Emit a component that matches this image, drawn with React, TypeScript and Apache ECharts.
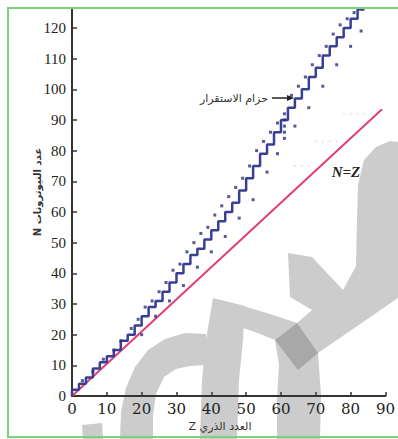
import React, { useEffect, useRef } from "react";
import * as echarts from "echarts";

// ---- data ----
const xTicks = [0, 10, 20, 30, 40, 50, 60, 70, 80, 90];
const yTicks = [0, 10, 20, 30, 40, 50, 60, 70, 80, 90, 100, 110, 120];

// stability band (staircase): proton number Z and neutron number N
const stairZ = [0, 2, 4, 6, 8, 10, 12, 14, 16, 18, 20, 22, 24, 26, 28, 30, 32, 34, 36, 38, 40, 42, 44, 46, 48, 50, 52, 54, 56, 58, 60, 62, 64, 66, 68, 70, 72, 74, 76, 78, 80, 82, 84];
const stairN = [0, 2, 4, 6, 9, 11, 13, 15, 18, 20, 23, 26, 29, 31, 34, 37, 40, 43, 46, 48, 51, 54, 57, 60, 63, 67, 71, 75, 79, 82, 86, 90, 94, 97, 100, 104, 107, 111, 114, 117, 120, 123, 126];

// dotted isotopes around the band
const dotZ = [3, 6, 9, 12, 14, 17, 19, 21, 23, 25, 27, 29, 31, 33, 35, 37, 39, 41, 43, 45, 47, 49, 51, 53, 55, 57, 59, 61, 61, 61, 61, 61, 63, 65, 67, 69, 71, 73, 75, 77, 79, 81, 20, 24, 28, 32, 36, 40, 44, 48, 52, 56, 59, 64, 68, 72, 76, 80, 83];
const dotN = [5, 8, 12, 15, 18, 22, 25, 29, 31, 34, 37, 41, 43, 47, 50, 53, 55, 59, 62, 65, 68, 71, 75, 80, 83, 86, 89, 84, 86, 88, 90, 92, 98, 101, 104, 108, 111, 114, 118, 121, 123, 125, 20, 26, 31, 36, 42, 47, 52, 58, 64, 73, 79, 88, 94, 101, 108, 114, 119];

// faint grey dots near the N=Z line
const faintZ = [64, 66, 68, 70, 72, 74, 76, 78, 80, 82, 84, 86, 88];
const faintN = [75, 75, 75, 83, 83, 83, 83, 92, 92, 92, 92, 92, 92];

// N = Z reference line (as drawn)
const refZ = [0, 89];
const refN = [0, 93.5];

export default function App() {
  const ref = useRef<HTMLDivElement>(null);
  useEffect(() => {
    if (!ref.current) return;
    const chart = echarts.init(ref.current, null, { renderer: "svg" });
    const grey = "#cccccc";
    const poly = (pts: number[][], fill: string, z = -10) => ({
      type: "polygon",
      z,
      silent: true,
      shape: { points: pts },
      style: { fill },
    });
    chart.setOption({
      animation: false,
      backgroundColor: "#ffffff",
      grid: { left: 72, right: 11, top: 8, bottom: 43, containLabel: false },
      xAxis: {
        type: "value",
        min: 0,
        max: 90,
        interval: 10,
        splitLine: { show: false },
        axisLine: { lineStyle: { color: "#333", width: 2 } },
        axisTick: { inside: true, length: 4, lineStyle: { color: "#333", width: 1.5 } },
        axisLabel: {
          fontFamily: "DejaVu Serif",
          fontSize: 15,
          color: "#222",
          margin: 5,
          customValues: xTicks,
        },
      },
      yAxis: {
        type: "value",
        min: 0,
        max: 126.5,
        interval: 10,
        splitLine: { show: false },
        axisLine: { lineStyle: { color: "#333", width: 2 } },
        axisTick: { inside: true, length: 5, lineStyle: { color: "#333", width: 1.5 }, customValues: yTicks },
        axisLabel: {
          fontFamily: "serif",
          fontSize: 15,
          color: "#222",
          margin: 6,
          customValues: yTicks,
        },
      },
      series: [
        {
          type: "line",
          data: refZ.map((z, i) => [z, refN[i]]),
          symbol: "none",
          lineStyle: { color: "#e0406e", width: 2 },
          z: 3,
        },
        {
          type: "scatter",
          data: faintZ.map((z, i) => [z, faintN[i]]),
          symbol: "rect",
          symbolSize: 2,
          itemStyle: { color: "#e2e2ee" },
          z: 2,
        },
        {
          type: "line",
          data: stairZ.map((z, i) => [z, stairN[i]]),
          step: "start",
          symbol: "none",
          lineStyle: { color: "#3a3f95", width: 2.5 },
          z: 4,
        },
        {
          type: "scatter",
          data: dotZ.map((z, i) => [z, dotN[i]]),
          symbol: "rect",
          symbolSize: 3,
          itemStyle: { color: "#2c3278" },
          z: 5,
        },
      ],
      graphic: [
        poly([[120, 439], [121, 412], [126, 388], [135, 367], [148, 350], [165, 339], [185, 333], [206, 334], [206, 365], [190, 366], [176, 369], [164, 377], [156, 394], [153, 415], [153, 439]], grey),
        poly([[213, 298], [245, 306], [243, 340], [239, 380], [237, 439], [200, 439], [202, 380], [206, 340]], grey),
        poly([[243, 306], [270, 314], [297, 323], [275, 340], [255, 332], [243, 328]], grey),
        poly([[275, 340], [297, 323], [318, 353], [321, 395], [320, 439], [277, 439], [277, 400], [279, 365]], grey),
        poly([[298, 370], [275, 340], [297, 323], [312, 310], [290, 297], [288, 253], [312, 257], [343, 290], [356, 266], [357, 220], [358, 185], [364, 160], [376, 147], [390, 141], [398, 142], [398, 298], [318, 353]], grey),
        poly([[275, 340], [297, 323], [318, 353], [298, 370]], "#a8a8a8", -9),
        poly([[82, 425], [102, 423], [103, 439], [83, 439]], grey),
        {
          type: "rect",
          z: 100,
          silent: true,
          shape: { x: 8, y: 8, width: 400, height: 429 },
          style: { fill: "none", stroke: "#7dd07d", lineWidth: 2 },
        },
        {
          type: "text",
          z: 50,
          x: 37,
          y: 192,
          rotation: Math.PI / 2,
          style: {
            text: "N عدد النيوترونات",
            fontFamily: "DejaVu Sans",
            fontSize: 10,
            fontWeight: "bold",
            fill: "#333",
            align: "center",
            verticalAlign: "middle",
          },
        },
        {
          type: "text",
          z: 50,
          x: 220,
          y: 426,
          style: {
            text: "Z العدد الذري",
            fontFamily: "DejaVu Sans",
            fontSize: 11,
            fill: "#333",
            align: "center",
            verticalAlign: "middle",
          },
        },
        {
          type: "text",
          z: 50,
          x: 268,
          y: 98,
          style: {
            text: "حزام الاستقرار",
            fontFamily: "DejaVu Sans",
            fontSize: 11,
            fill: "#333",
            align: "right",
            verticalAlign: "middle",
          },
        },
        {
          type: "line",
          z: 50,
          shape: { x1: 272, y1: 98, x2: 288, y2: 98 },
          style: { stroke: "#222", lineWidth: 1.5 },
        },
        {
          type: "polygon",
          z: 50,
          shape: { points: [[287, 95], [294, 98], [287, 101]] },
          style: { fill: "#222" },
        },
        {
          type: "text",
          z: 50,
          x: 346,
          y: 172,
          style: {
            text: "N=Z",
            font: "italic bold 15px Liberation Serif",
            fill: "#222",
            align: "center",
            verticalAlign: "middle",
          },
        },
      ],
    });
    return () => chart.dispose();
  }, []);
  return (
    <div
      ref={ref}
      style={{ position: "fixed", left: 0, top: 0, width: 398, height: 439 }}
    />
  );
}
